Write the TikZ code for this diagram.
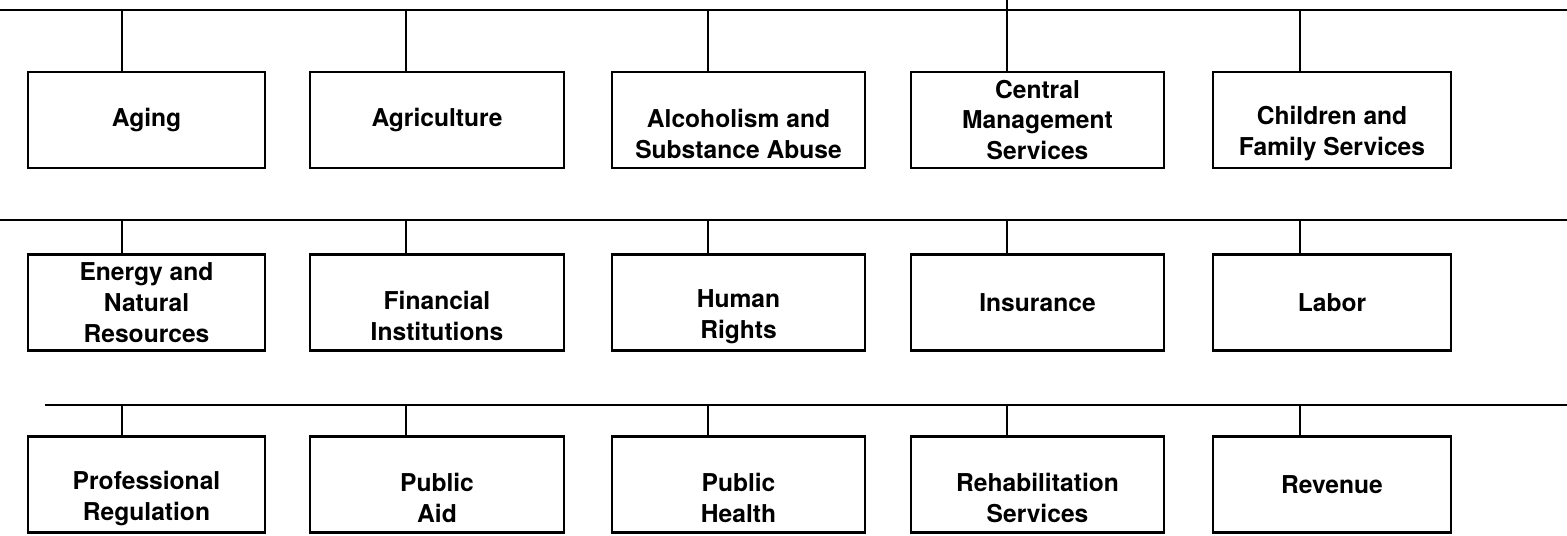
\documentclass[tikz,border=0pt]{standalone}
\usepackage{fontspec}
\setmainfont{TeX Gyre Heros}
\usepackage{tikz}
\usetikzlibrary{calc, positioning}
% two-line names sit in the lower two of three line slots
\newcommand{\lowpair}[2]{\strut\\[-4pt]#1\\#2}

\begin{document}
\begin{tikzpicture}[
  x=0.02cm, y=-0.02cm,
  dept/.style={draw, line width=1.3pt, minimum height=1.92cm, inner sep=0pt,
    font=\fontsize{14}{17.6}\selectfont\bfseries, align=center},
  colA/.style={dept, minimum width=4.74cm},
  colB/.style={dept, minimum width=5.08cm},
  colC/.style={dept, minimum width=5.06cm},
  colD/.style={dept, minimum width=5.06cm},
  colE/.style={dept, minimum width=4.76cm},
  bar/.style={line width=1.6pt},
  stem/.style={line width=1.3pt},
]
  \useasboundingbox (0,0) rectangle (1567,536);

  % first row
  \coordinate (r1w) at (0,10);
  \coordinate (r1e) at (1567,10);
  \draw[bar] (r1w) -- (r1e);
  \node[colA] (aging) at (146.5,120) {Aging};
  \node[colB] (agri) at (437,120) {Agriculture};
  \node[colC] (alcohol) at (738.5,120) {\lowpair{Alcoholism and}{Substance Abuse}};
  \node[colD] (cms) at (1037.5,120) {Central\\Management\\Services};
  \node[colE] (children) at (1332,120) {\lowpair{Children and}{Family Services}};
  \coordinate (s1a) at (122,10);
  \coordinate (s1b) at (406,10);
  \coordinate (s1c) at (708,10);
  \coordinate (s1d) at (1007,0);
  \coordinate (s1e) at (1300,10);
  \draw[stem] (s1a) -- (aging.north -| s1a);
  \draw[stem] (s1b) -- (agri.north -| s1b);
  \draw[stem] (s1c) -- (alcohol.north -| s1c);
  \draw[stem] (s1d) -- (cms.north -| s1d);
  \draw[stem] (s1e) -- (children.north -| s1e);

  % second row
  \coordinate (r2w) at (0,220);
  \coordinate (r2e) at (1567,220);
  \draw[bar] (r2w) -- (r2e);
  \node[colA] (energy) at (146.5,302.5) {Energy and\\Natural\\Resources};
  \node[colB] (finance) at (437,302.5) {\lowpair{Financial}{Institutions}};
  \node[colC] (rights) at (738.5,302.5) {\lowpair{Human}{Rights}};
  \node[colD] (insur) at (1037.5,302.5) {Insurance};
  \node[colE] (labor) at (1332,302.5) {Labor};
  \coordinate (s2a) at (122,220);
  \coordinate (s2b) at (406,220);
  \coordinate (s2c) at (708,220);
  \coordinate (s2d) at (1007,220);
  \coordinate (s2e) at (1300,220);
  \draw[stem] (s2a) -- (energy.north -| s2a);
  \draw[stem] (s2b) -- (finance.north -| s2b);
  \draw[stem] (s2c) -- (rights.north -| s2c);
  \draw[stem] (s2d) -- (insur.north -| s2d);
  \draw[stem] (s2e) -- (labor.north -| s2e);

  % third row
  \coordinate (r3w) at (45,405);
  \coordinate (r3e) at (1567,405);
  \draw[bar] (r3w) -- (r3e);
  \node[colA] (profreg) at (146.5,484.5) {\lowpair{Professional}{Regulation}};
  \node[colB] (pubaid) at (437,484.5) {\lowpair{Public}{Aid}};
  \node[colC] (pubhealth) at (738.5,484.5) {\lowpair{Public}{Health}};
  \node[colD] (rehab) at (1037.5,484.5) {\lowpair{Rehabilitation}{Services}};
  \node[colE] (revenue) at (1332,484.5) {Revenue};
  \coordinate (s3a) at (122,405);
  \coordinate (s3b) at (406,405);
  \coordinate (s3c) at (708,405);
  \coordinate (s3d) at (1007,405);
  \coordinate (s3e) at (1300,405);
  \draw[stem] (s3a) -- (profreg.north -| s3a);
  \draw[stem] (s3b) -- (pubaid.north -| s3b);
  \draw[stem] (s3c) -- (pubhealth.north -| s3c);
  \draw[stem] (s3d) -- (rehab.north -| s3d);
  \draw[stem] (s3e) -- (revenue.north -| s3e);
\end{tikzpicture}
\end{document}
